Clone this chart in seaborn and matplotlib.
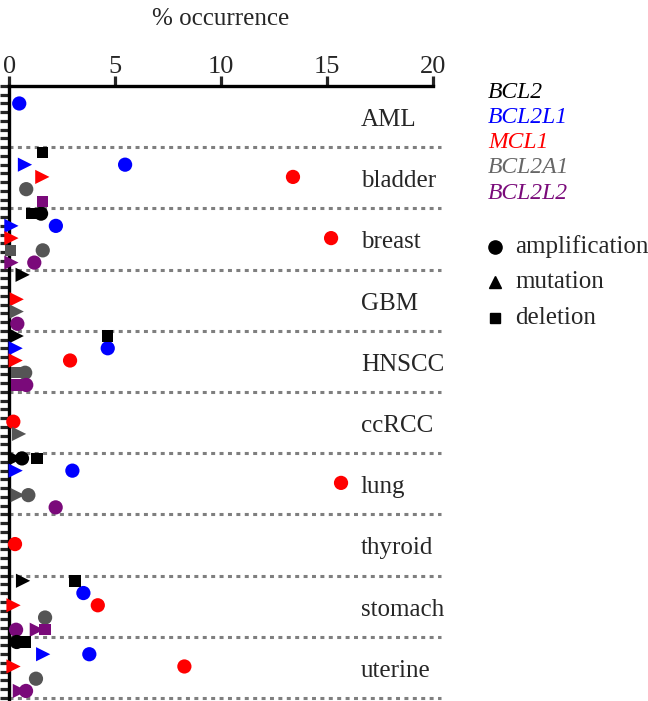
import matplotlib.pyplot as plt
import pandas as pd
import seaborn as sns
from matplotlib.lines import Line2D

cancers = ["AML", "bladder", "breast", "GBM", "HNSCC",
           "ccRCC", "lung", "thyroid", "stomach", "uterine"]
genes = ["BCL2", "BCL2L1", "MCL1", "BCL2A1", "BCL2L2"]
gene_colors = ["#000000", "#0000ff", "#ff0000", "#555555", "#7a0a7a"]
gene_text_colors = ["#000000", "#0000ff", "#ff0000", "#666666", "#7a0a7a"]
alt_types = ["amplification", "mutation", "deletion"]

# (cancer, gene, % occurrence)
amplification = [
    ("AML", "BCL2L1", 0.47),
    ("bladder", "BCL2L1", 5.47), ("bladder", "MCL1", 13.4), ("bladder", "BCL2A1", 0.8),
    ("breast", "BCL2", 1.5), ("breast", "BCL2L1", 2.2), ("breast", "MCL1", 15.2),
    ("breast", "BCL2A1", 1.58), ("breast", "BCL2L2", 1.18),
    ("GBM", "BCL2L2", 0.38),
    ("HNSCC", "BCL2L1", 4.65), ("HNSCC", "MCL1", 2.87), ("HNSCC", "BCL2A1", 0.75),
    ("HNSCC", "BCL2L2", 0.8),
    ("ccRCC", "MCL1", 0.19),
    ("lung", "BCL2", 0.6), ("lung", "BCL2L1", 2.98), ("lung", "MCL1", 15.67),
    ("lung", "BCL2A1", 0.9), ("lung", "BCL2L2", 2.19),
    ("thyroid", "MCL1", 0.27),
    ("stomach", "BCL2L1", 3.5), ("stomach", "MCL1", 4.18), ("stomach", "BCL2A1", 1.69),
    ("stomach", "BCL2L2", 0.32),
    ("uterine", "BCL2", 0.35), ("uterine", "BCL2L1", 3.78), ("uterine", "MCL1", 8.27),
    ("uterine", "BCL2A1", 1.26), ("uterine", "BCL2L2", 0.79),
]
mutation = [
    ("bladder", "BCL2L1", 0.74), ("bladder", "MCL1", 1.56),
    ("breast", "BCL2L1", 0.1), ("breast", "MCL1", 0.1), ("breast", "BCL2L2", 0.1),
    ("GBM", "BCL2", 0.63), ("GBM", "MCL1", 0.35), ("GBM", "BCL2A1", 0.35),
    ("HNSCC", "BCL2", 0.35), ("HNSCC", "BCL2L1", 0.3), ("HNSCC", "MCL1", 0.3),
    ("ccRCC", "BCL2A1", 0.46),
    ("lung", "BCL2", 0.3), ("lung", "BCL2L1", 0.3), ("lung", "BCL2A1", 0.4),
    ("stomach", "BCL2", 0.65), ("stomach", "MCL1", 0.2), ("stomach", "BCL2L2", 1.3),
    ("uterine", "BCL2L1", 1.6), ("uterine", "MCL1", 0.2), ("uterine", "BCL2L2", 0.5),
]
deletion = [
    ("bladder", "BCL2", 1.58), ("bladder", "BCL2L2", 1.58),
    ("breast", "BCL2", 1.06), ("breast", "BCL2A1", 0.06),
    ("HNSCC", "BCL2", 4.65), ("HNSCC", "BCL2A1", 0.35), ("HNSCC", "BCL2L2", 0.35),
    ("lung", "BCL2", 1.3),
    ("stomach", "BCL2", 3.1), ("stomach", "BCL2L2", 1.69),
    ("uterine", "BCL2", 0.74),
]

x_ticks = [0, 5, 10, 15, 20]

# each cancer occupies 7 units on the y axis, one row per gene
BLOCK = 7
rows = []
for kind, recs in zip(alt_types, [amplification, mutation, deletion]):
    for cancer, gene, pct in recs:
        ypos = cancers.index(cancer) * BLOCK + 0.6 + 1.4 * genes.index(gene)
        rows.append({"cancer": cancer, "gene": gene, "type": kind, "pct": pct, "y": ypos})
df = pd.DataFrame(rows)

sns.set_style("ticks")
plt.rcParams["font.family"] = ["Liberation Serif", "DejaVu Serif"]

fig = plt.figure(figsize=(6.48, 7.01), dpi=100)
ax = fig.add_axes([9.3 / 648, 0.0, (432.7 - 9.3) / 648, (701 - 86) / 701])

sns.scatterplot(
    data=df, x="pct", y="y",
    hue="gene", hue_order=genes, palette=dict(zip(genes, gene_colors)),
    style="type", style_order=alt_types,
    markers={"amplification": "o", "mutation": ">", "deletion": "s"},
    size="type", sizes={"amplification": 105, "mutation": 105, "deletion": 68},
    linewidth=0, legend=False, clip_on=False, zorder=4, ax=ax,
)

# dotted separators between cancers
for i in range(1, len(cancers) + 1):
    ax.plot([0, 20.4], [i * BLOCK, i * BLOCK], color="#7f7f7f", lw=2.2,
            dashes=(1.3, 1.45), clip_on=False, zorder=1)

for i, name in enumerate(cancers):
    ax.text(16.6, i * BLOCK + 3.9, name, fontsize=18, va="center", ha="left")

ax.set_xlim(0, 20)
ax.set_ylim(BLOCK * len(cancers) + 0.35, 0)
ax.xaxis.tick_top()
ax.xaxis.set_label_position("top")
ax.set_xticks(x_ticks)
ax.set_xticklabels([str(t) for t in x_ticks])
ax.set_yticks(range(0, BLOCK * len(cancers) + 1))
ax.set_yticklabels([])
ax.tick_params(axis="x", length=7, width=2.3, pad=-1, labelsize=19, direction="out")
ax.tick_params(axis="y", length=6.5, width=2.3, direction="out")
ax.set_xlabel("% occurrence", fontsize=18, labelpad=22)
ax.set_ylabel("")
for side in ["right", "bottom"]:
    ax.spines[side].set_visible(False)
for side in ["top", "left"]:
    ax.spines[side].set_linewidth(2.4)
    ax.spines[side].set_color("black")
ax.grid(False)

# gene legend
for j, (g, c) in enumerate(zip(genes, gene_text_colors)):
    fig.text(488 / 648, 1 - (92 + 25.3 * j) / 701, g, color=c, fontsize=17,
             style="italic", va="center", ha="left")

# alteration legend
legend_markers = ["o", "^", "s"]
legend_sizes = [9.5, 9, 7.5]
for j, (m, lab, ms) in enumerate(zip(legend_markers, alt_types, legend_sizes)):
    yy = 1 - (246.5 + 35.8 * j) / 701
    fig.add_artist(Line2D([495 / 648], [yy], marker=m, color="black", markersize=ms,
                          linestyle="none", transform=fig.transFigure))
    fig.text(515 / 648, yy, lab, fontsize=18, va="center", ha="left")

fig.savefig("out.png", dpi=100)
